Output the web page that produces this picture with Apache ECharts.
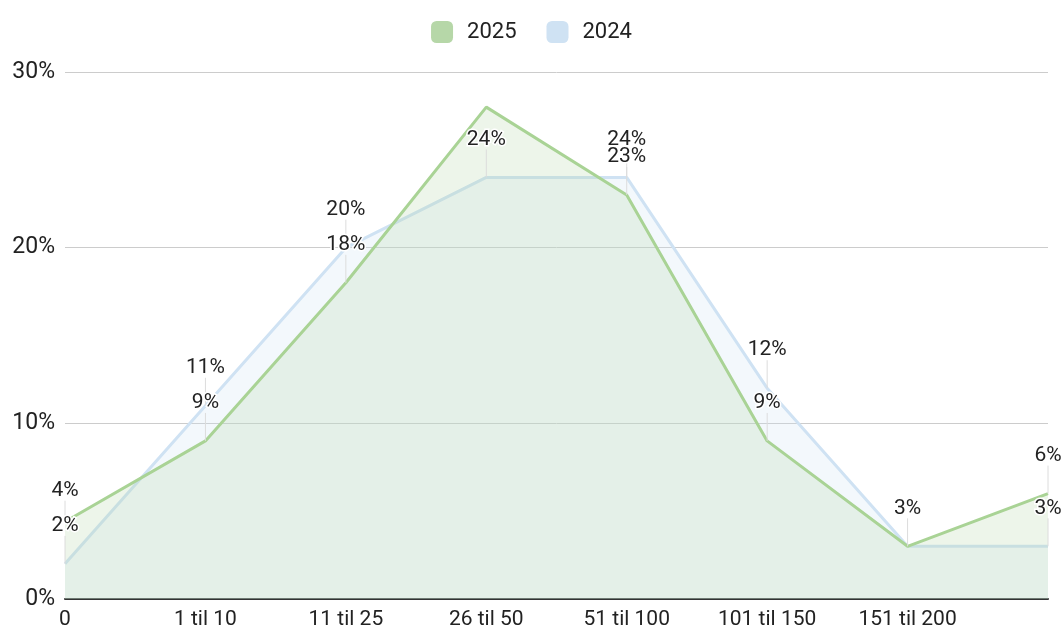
<!DOCTYPE html>
<html>
<head>
<meta charset="utf-8">
<script src="https://cdn.jsdelivr.net/npm/echarts@6/dist/echarts.min.js"></script>
<style>
html,body{margin:0;padding:0;background:#fff;}
#chart{width:1063px;height:630px;}
</style>
</head>
<body>
<div id="chart"></div>
<script>
var categories = ['0', '1 til 10', '11 til 25', '26 til 50', '51 til 100', '101 til 150', '151 til 200', ''];
var values2025 = [4.4, 9, 18, 28, 23, 9, 3, 6];
var values2024 = [2, 11, 20, 24, 24, 12, 3, 3];
var labels2025 = ['4%', '9%', '18%', '', '23%', '9%', '', '6%'];
var labels2024 = ['2%', '11%', '20%', '24%', '24%', '12%', '3%', '3%'];
var yTicks = [0, 10, 20, 30];

var GREEN = '#a9d395';
var BLUE = '#cfe2f3';

// [categoryIndex, value, labelText]
var labelItems = [];
values2025.forEach(function (v, i) { if (labels2025[i] !== '') labelItems.push([i, v, labels2025[i]]); });
values2024.forEach(function (v, i) { if (labels2024[i] !== '') labelItems.push([i, v, labels2024[i]]); });

var chart = echarts.init(document.getElementById('chart'), null, { renderer: 'canvas' });
chart.setOption({
  animation: false,
  textStyle: { fontFamily: 'Roboto' },
  legend: {
    top: 16,
    left: 'center',
    itemWidth: 22,
    itemHeight: 22,
    itemGap: 30,
    icon: 'roundRect',
    textStyle: { fontSize: 22, color: '#222', fontFamily: 'Roboto', padding: [0, 0, 0, 9] },
    data: [
      { name: '2025', itemStyle: { color: '#b6d7a8' } },
      { name: '2024', itemStyle: { color: BLUE } }
    ]
  },
  grid: { left: 65, right: 15, top: 72, bottom: 29, containLabel: false },
  xAxis: {
    type: 'category',
    data: categories,
    boundaryGap: false,
    axisLine: { lineStyle: { color: '#333', width: 2 } },
    axisTick: { show: false },
    axisLabel: { color: '#222', fontSize: 21, margin: 10, interval: 0, fontFamily: 'Roboto' },
    splitLine: { show: false }
  },
  yAxis: {
    type: 'value',
    min: yTicks[0],
    max: yTicks[yTicks.length - 1],
    interval: 10,
    axisLine: { show: false },
    axisTick: { show: false },
    axisLabel: { formatter: '{value}%', color: '#222', fontSize: 23, margin: 10, fontFamily: 'Roboto' },
    splitLine: { lineStyle: { color: '#cccccc', width: 1 } }
  },
  series: [
    {
      name: '2025',
      type: 'line',
      z: 3,
      data: values2025,
      symbol: 'none',
      lineStyle: { color: GREEN, width: 3 },
      itemStyle: { color: GREEN },
      areaStyle: { color: 'rgba(182,215,168,0.35)' }
    },
    {
      name: '2024',
      type: 'line',
      z: 2,
      data: values2024,
      symbol: 'none',
      lineStyle: { color: BLUE, width: 3 },
      itemStyle: { color: BLUE },
      areaStyle: { color: 'rgba(207,226,243,0.35)' }
    },
    {
      type: 'custom',
      name: 'labels',
      silent: true,
      z: 10,
      data: labelItems,
      renderItem: function (params, api) {
        var p = api.coord([api.value(0), api.value(1)]);
        var text = labelItems[params.dataIndex][2];
        // first category label of 2025 sits a bit lower in the reference
        var off = (api.value(0) === 0 && text === '4%') ? 31 : 38;
        return {
          type: 'group',
          children: [
            {
              type: 'line',
              z2: 1,
              shape: { x1: p[0], y1: p[1], x2: p[0], y2: p[1] - off + 10 },
              style: { stroke: '#dcdcdc', lineWidth: 1 }
            },
            {
              type: 'text',
              z2: 2,
              x: p[0],
              y: p[1] - off,
              style: {
                text: text,
                fill: '#222',
                font: '21px Roboto',
                align: 'center',
                verticalAlign: 'middle',
                stroke: '#fff',
                lineWidth: 3
              }
            }
          ]
        };
      }
    }
  ]
});
</script>
</body>
</html>
